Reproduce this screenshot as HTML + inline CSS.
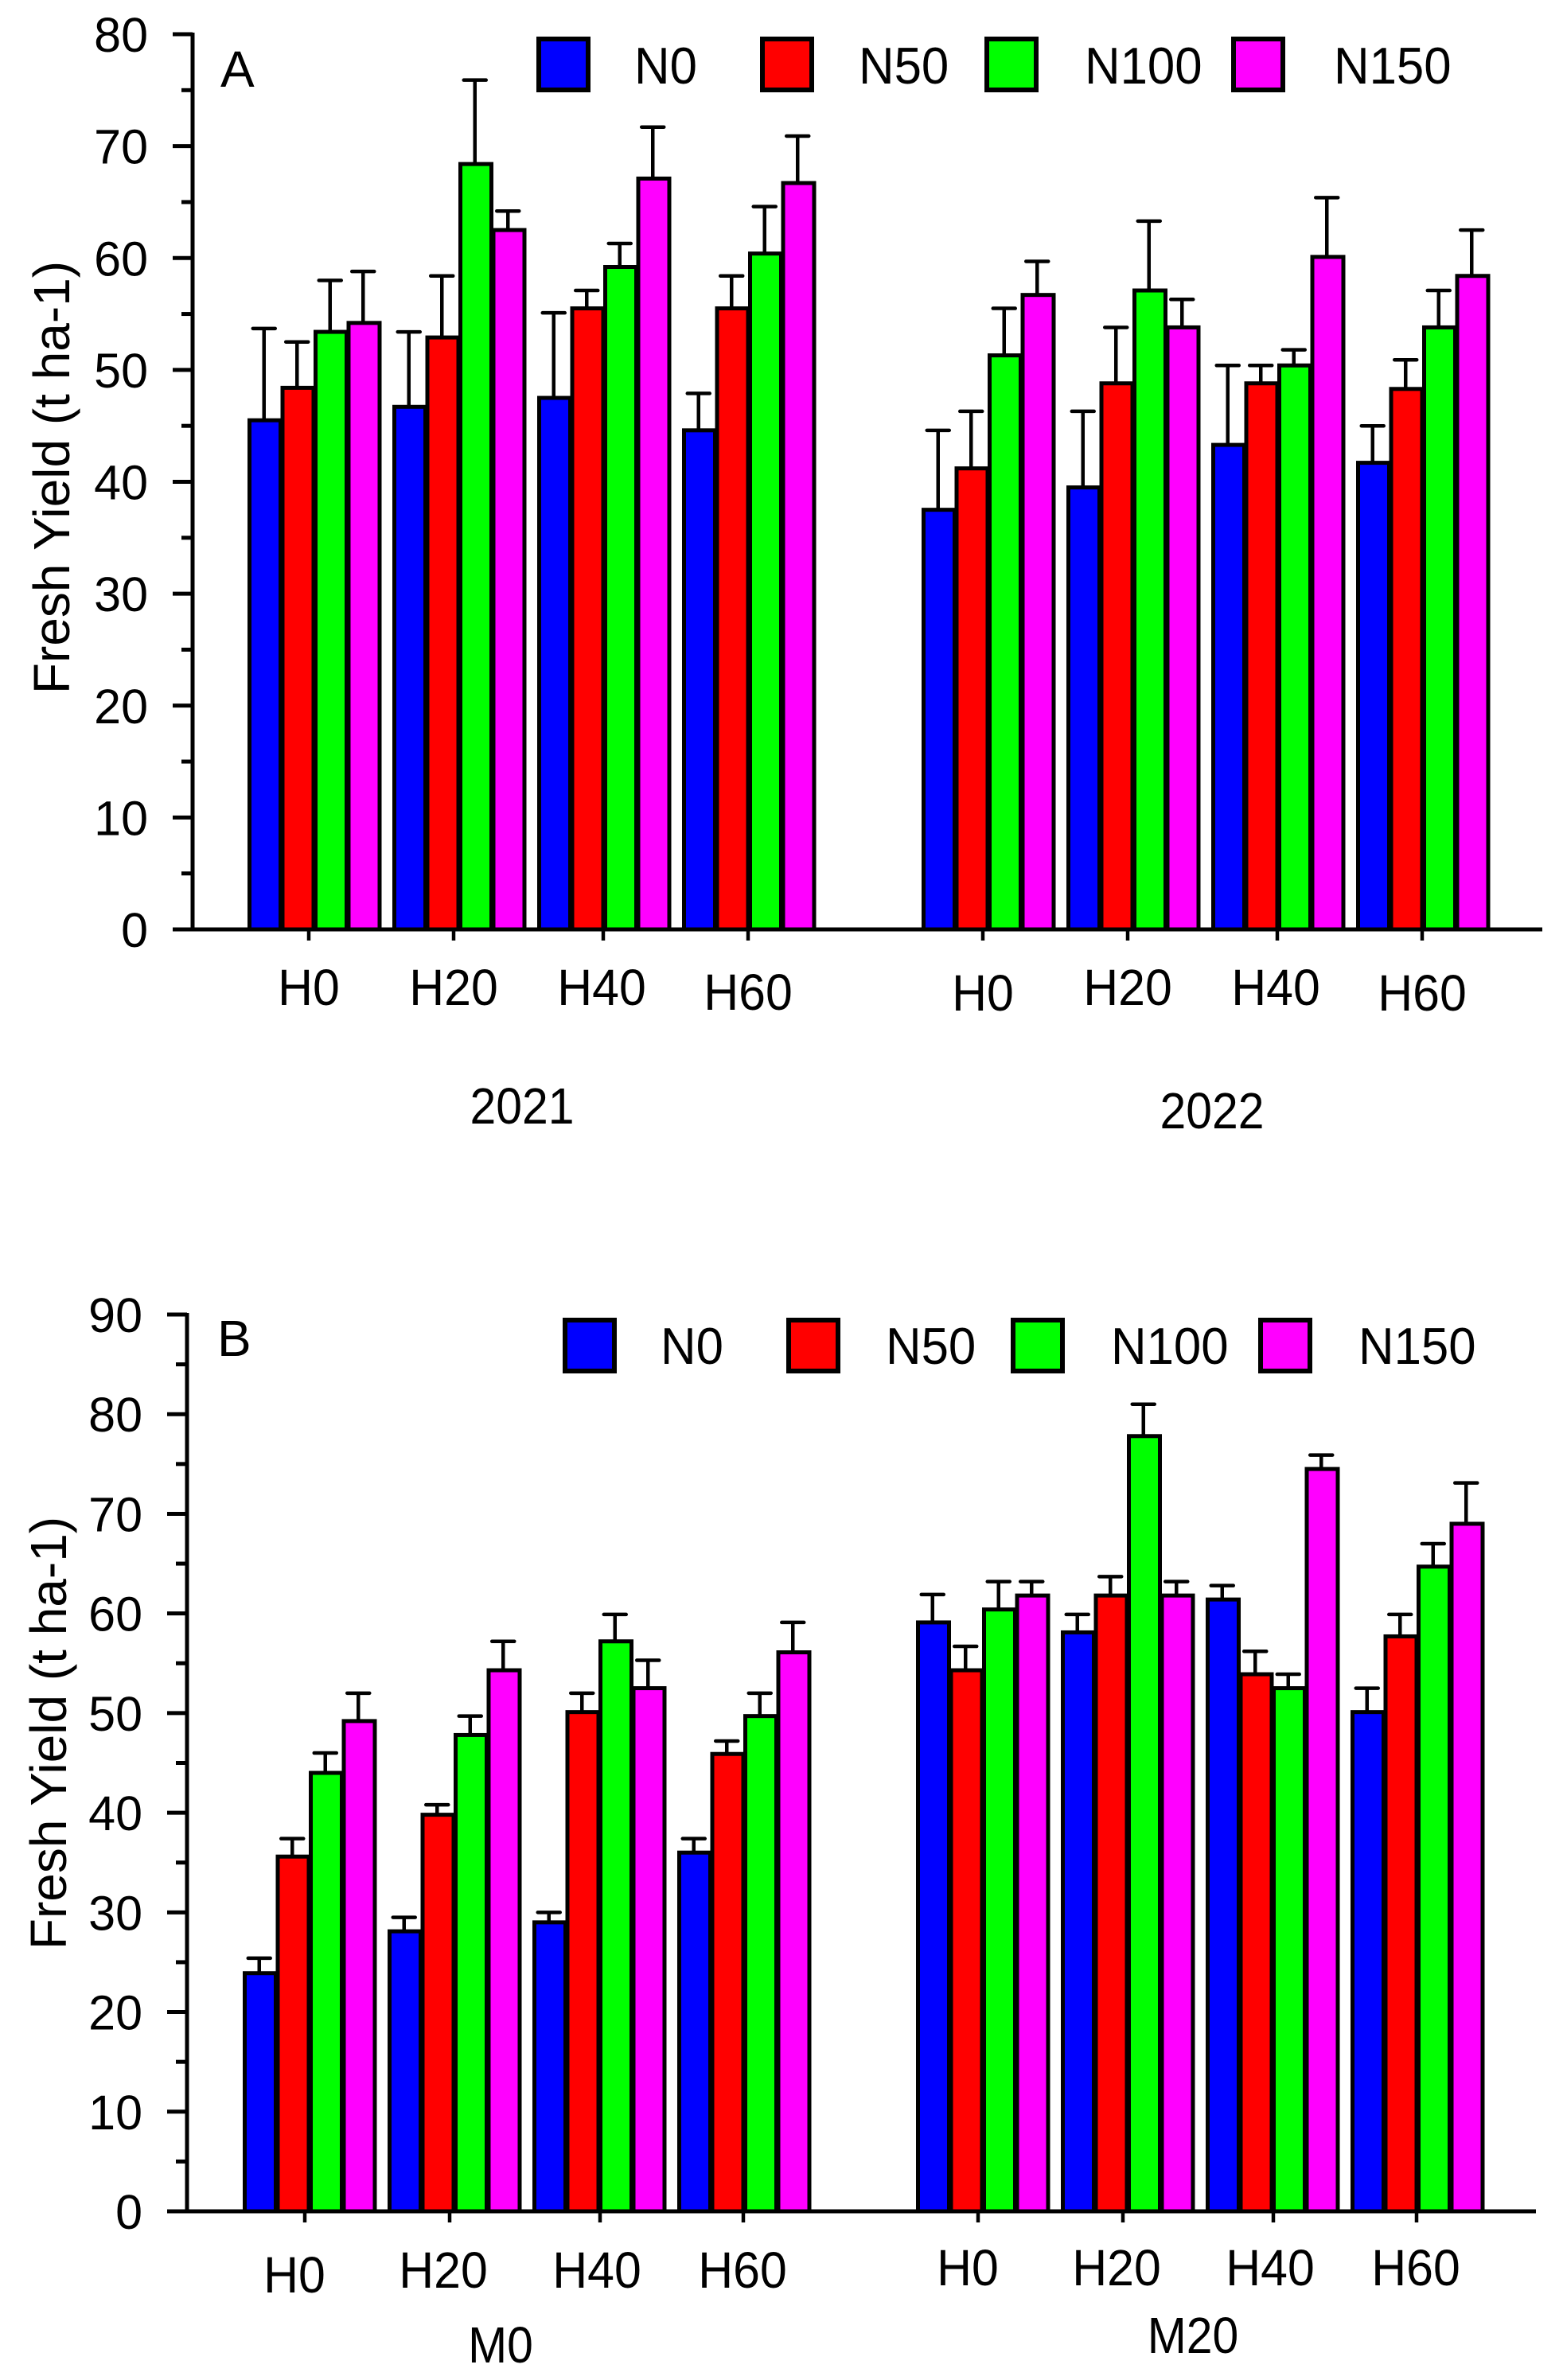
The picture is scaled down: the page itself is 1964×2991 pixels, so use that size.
<!DOCTYPE html>
<html><head><meta charset="utf-8"><style>
html,body{margin:0;padding:0;background:#fff;}
svg{display:block;font-family:"Liberation Sans",Arial,sans-serif;}
</style></head><body>
<svg id="fig" width="1964" height="2991" viewBox="0 0 1964 2991" xmlns="http://www.w3.org/2000/svg"></svg>
<script>
const series = ["N0","N50","N100","N150"];
const colors = ["#0000ff","#ff0000","#00ff00","#ff00ff"];
const groupsA = ["H0","H20","H40","H60","H0","H20","H40","H60"];
const sectionsA = ["2021","2022"];
const valsA_N0   = [45.5,46.7,47.5,44.6, 37.5,39.5,43.3,41.7];
const valsA_N50  = [48.4,52.9,55.5,55.5, 41.2,48.8,48.8,48.3];
const valsA_N100 = [53.4,68.4,59.2,60.4, 51.3,57.1,50.4,53.8];
const valsA_N150 = [54.2,62.5,67.1,66.7, 56.7,53.8,60.1,58.4];
const errA_N0   = [53.7,53.4,55.1,47.9, 44.6,46.3,50.4,45.0];
const errA_N50  = [52.5,58.4,57.1,58.4, 46.3,53.8,50.4,50.9];
const errA_N100 = [58.0,75.9,61.3,64.6, 55.5,63.3,51.8,57.1];
const errA_N150 = [58.8,64.2,71.7,70.9, 59.7,56.3,65.4,62.5];
const ticksA = [0,10,20,30,40,50,60,70,80];

const groupsB = ["H0","H20","H40","H60","H0","H20","H40","H60"];
const sectionsB = ["M0","M20"];
const valsB_N0   = [23.9,28.1,29.0,36.0, 59.1,58.1,61.4,50.1];
const valsB_N50  = [35.6,39.8,50.1,45.9, 54.3,61.8,53.9,57.7];
const valsB_N100 = [44.0,47.8,57.2,49.7, 60.4,77.8,52.5,64.7];
const valsB_N150 = [49.2,54.3,52.5,56.1, 61.8,61.8,74.5,69.0];
const errB_N0   = [25.4,29.5,30.0,37.4, 61.9,59.9,62.8,52.5];
const errB_N50  = [37.4,40.8,52.0,47.2, 56.7,63.7,56.2,59.9];
const errB_N100 = [46.0,49.7,59.9,52.0, 63.2,81.0,53.9,67.0];
const errB_N150 = [52.0,57.2,55.3,59.1, 63.2,63.2,75.9,73.1];
const ticksB = [0,10,20,30,40,50,60,70,80,90];

const svg = document.getElementById('fig');
const NS = "http://www.w3.org/2000/svg";
function mk(tag, attrs, parent){
  const e = document.createElementNS(NS, tag);
  for (const k in attrs) e.setAttribute(k, attrs[k]);
  (parent||svg).appendChild(e);
  return e;
}
function txt(str, x, y, size, anchor, sx, parent){
  const t = mk('text', {x:0, y:0, 'font-size':size, 'text-anchor':anchor||'start', fill:'#000',
    transform:`translate(${x},${y}) scale(${sx||1},1)`}, parent);
  t.textContent = str;
  return t;
}

function drawChart(cfg){
  const g = mk('g', {});
  
  
  const yS = v => cfg.y0 - (v - 0) * (cfg.y0 - cfg.yTop) / cfg.yMax;
  const groupX = i => cfg.starts[Math.floor(i/4)] + (i%4) * cfg.pitch;
  const bw = 41.5;
  const vals = cfg.vals, errs = cfg.errs;
  for (let i = 0; i < cfg.groups.length; i++){
    const gx = groupX(i);
    for (let s = 0; s < 4; s++){
      const x = gx + s*bw;
      const v = vals[s][i], e = errs[s][i];
      const eb = mk('line', {x1:x+bw/2, x2:x+bw/2, y1:yS(v), y2:yS(e), stroke:'#000', 'stroke-width':4.5}, g);
      
      
      const cap = mk('line', {x1:x+bw/2-14, x2:x+bw/2+14, y1:yS(e), y2:yS(e), stroke:'#000', 'stroke-width':4.5, 'stroke-linecap':'round'}, g);
      
      
      const r = mk('rect', {x:x+2.5, y:yS(v), width:bw-5+2.5, height:yS(0)-yS(v), fill:colors[s], stroke:'#000', 'stroke-width':5}, g);
      
      
    }
  }
  const ya = mk('line', {x1:cfg.axX, x2:cfg.axX, y1:yS(cfg.yMax)-2, y2:yS(0), stroke:'#000', 'stroke-width':5}, g);
  
  
  for (let k = 0; k < cfg.ticks.length; k++){
    const v = cfg.ticks[k];
    const tl = mk('line', {x1:cfg.axX-25, x2:cfg.axX, y1:yS(v), y2:yS(v), stroke:'#000', 'stroke-width':5}, g);
    
    
    const lb = txt(String(v), cfg.axX-56, yS(v)+22, 61, 'end', 1.0, g);
    
    
    if (k < cfg.ticks.length-1){
      const mv = v + (cfg.ticks[k+1]-v)/2;
      const mt = mk('line', {x1:cfg.axX-14, x2:cfg.axX, y1:yS(mv), y2:yS(mv), stroke:'#000', 'stroke-width':5}, g);
      
      
    }
  }
  const xa = mk('line', {x1:cfg.axX-25, x2:cfg.xEnd, y1:yS(0), y2:yS(0), stroke:'#000', 'stroke-width':5}, g);
  
  
  for (let i = 0; i < cfg.groups.length; i++){
    const cx = groupX(i) + cfg.tickOff[i%4];
    const xt = mk('line', {x1:cx, x2:cx, y1:yS(0), y2:yS(0)+14, stroke:'#000', 'stroke-width':4.5}, g);
    
    
    const lb = txt(cfg.groups[i], groupX(i) + cfg.labOff[i%4], cfg.labY[i], 64, 'middle', 0.95, g);
    
    
  }
  for (let s = 0; s < cfg.sections.length; s++){
    const lb = txt(cfg.sections[s], cfg.secX[s], cfg.secY[s], 64, 'middle', 0.92, g);
    
    
  }
  const yt = mk('text', {x:0, y:0, 'font-size':64, 'text-anchor':'middle', fill:'#000',
     transform:`translate(${cfg.titleX},${cfg.titleY}) rotate(-90)`}, g);
  yt.textContent = 'Fresh Yield (t ha-1)';
  
  
  const pl = txt(cfg.letter, cfg.letterX, cfg.letterY, 64, 'start', 1.0, g);
  
  
  for (let s = 0; s < 4; s++){
    const lg = mk('g', {}, g);
    
    
    const bx = cfg.legBox[s];
    const sw = mk('rect', {x:bx+3, y:cfg.legTop+3, width:62, height:64, fill:colors[s], stroke:'#000', 'stroke-width':6}, lg);
    
    
    const lt = txt(series[s], cfg.legTxt[s], cfg.legBase, 65, 'start', 0.95, lg);
    
    
  }
}

drawChart({
  name:'chart-a', groups:groupsA, sections:sectionsA,
  vals:[valsA_N0,valsA_N50,valsA_N100,valsA_N150],
  errs:[errA_N0,errA_N50,errA_N100,errA_N150],
  ticks:ticksA, yMax:80, y0:1168, yTop:43, axX:242, xEnd:1938,
  starts:[311,1158], pitch:182,
  tickOff:[77,77,83,83], labOff:[77,77,81,83],
  labY:[1263,1263,1263,1269,1270,1263,1263,1270],
  secX:[656,1523], secY:[1412,1418],
  titleX:87, titleY:600, letter:'A', letterX:277, letterY:109,
  legBox:[674,955,1237,1547], legTxt:[797,1079,1363,1676], legTop:46, legBase:105
});
drawChart({
  name:'chart-b', groups:groupsB, sections:sectionsB,
  vals:[valsB_N0,valsB_N50,valsB_N100,valsB_N150],
  errs:[errB_N0,errB_N50,errB_N100,errB_N150],
  ticks:ticksB, yMax:90, y0:2779, yTop:1652, axX:235, xEnd:1930,
  starts:[305,1151], pitch:182,
  tickOff:[78,78,85,83], labOff:[65,70,81,82],
  labY:[2881,2875,2875,2875,2872,2872,2872,2872],
  secX:[629,1499], secY:[2969,2957],
  titleX:83, titleY:2178, letter:'B', letterX:273, letterY:1704,
  legBox:[707,988,1270,1581], legTxt:[830,1113,1396,1707], legTop:1656, legBase:1714
});
</script>
</body></html>
